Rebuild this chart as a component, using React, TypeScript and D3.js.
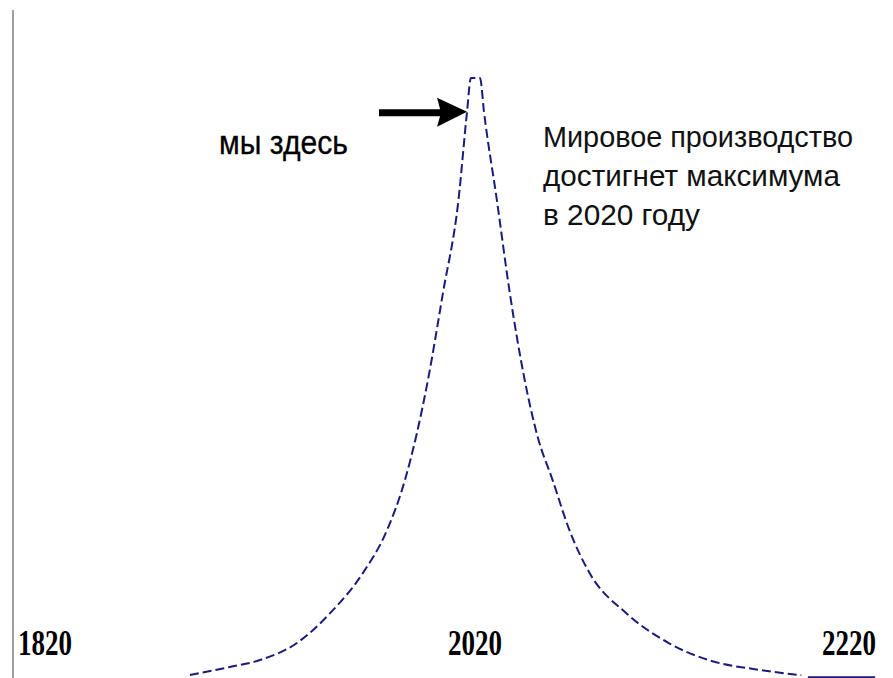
import React from "react";
import * as d3 from "d3";

const W = 893;
const H = 678;

// Year ticks shown on the axis
const tickYears = [1820, 2020, 2220];
const tickLabels = ["1820", "2020", "2220"];

// Production curve (relative units, peak = 100)
const years = [
  1887.4, 1906, 1920, 1937.2, 1952.6, 1967.9, 1979.1, 1987.4, 1998.1, 2005.1, 2012.3,
  2016.3, 2018.1, 2022.7, 2024.8, 2031.7, 2038.6, 2046.6, 2053.5, 2061.5, 2070.5,
  2081.2, 2100.9, 2123.8, 2145, 2171.6, 2194.5,
];
const values = [
  0.83, 2.16, 3.32, 6.15, 11.1, 17.8, 24.9, 33.2, 49.8, 64.3, 79.7,
  94.4, 100, 100, 94.4, 79.7, 64.3, 49.8, 40.4, 33.2, 24.9,
  17.8, 11.1, 6.1, 3.3, 1.7, 0.8,
];
// Solid tail at the far right
const tailYears = [2198, 2234];
const tailValues = [0.45, 0.45];

const hereYear = 2016.3;
const hereValue = 94.4;

const leftNote = "мы здесь";
const rightNote = ["Мировое производство", "достигнет максимума", "в 2020 году"];

export default function App() {
  const x = d3.scaleLinear().domain([1820, 2020, 2220]).range([45, 475, 849]);
  const y = d3.scaleLinear().domain([0, 100]).range([680, 78]);

  const pts = years.map((yr, i) => [yr, values[i]] as [number, number]);
  const lineGen = d3
    .line<[number, number]>()
    .x((d) => x(d[0]))
    .y((d) => y(d[1]))
    .curve(d3.curveMonotoneX);
  const tail = tailYears.map((yr, i) => [yr, tailValues[i]] as [number, number]);

  const tipX = x(hereYear);
  const tipY = y(hereValue);
  const headLen = 30;
  const headHalf = 14;
  const shaftStart = 379;

  const lineColor = "#1b1b7c";

  return (
    <svg
      width={W}
      height={H}
      style={{ position: "absolute", left: 0, top: 0, background: "#fff" }}
    >
      <rect x={0} y={0} width={W} height={H} fill="#fff" />
      {/* left axis line */}
      <line x1={13} x2={13} y1={10} y2={H} stroke="#a0a0a0" strokeWidth={2} />

      {/* curve */}
      <path
        d={lineGen(pts) || ""}
        fill="none"
        stroke={lineColor}
        strokeWidth={2}
        strokeDasharray="9,4"
      />
      <path d={lineGen(tail) || ""} fill="none" stroke={lineColor} strokeWidth={2} />

      {/* tick labels */}
      {tickYears.map((yr, i) => (
        <text
          key={yr}
          x={x(yr)}
          y={655}
          textAnchor="middle"
          fontFamily="'Liberation Serif', 'Times New Roman', serif"
          fontWeight="bold"
          fontSize={36}
          textLength={54}
          lengthAdjust="spacingAndGlyphs"
          fill="#000"
        >
          {tickLabels[i]}
        </text>
      ))}

      {/* arrow */}
      <line
        x1={shaftStart}
        x2={tipX - headLen + 4}
        y1={tipY + 1}
        y2={tipY + 1}
        stroke="#000"
        strokeWidth={7}
      />
      <polygon
        points={`${tipX},${tipY} ${tipX - headLen},${tipY - headHalf} ${tipX - headLen + 4},${tipY + 1} ${tipX - headLen},${tipY + headHalf + 1}`}
        fill="#000"
      />

      <text
        x={219}
        y={154}
        fontFamily="'Liberation Sans', Arial, sans-serif"
        fontSize={33}
        textLength={129}
        lengthAdjust="spacingAndGlyphs"
        fill="#000"
        stroke="#000"
        strokeWidth={0.3}
      >
        {leftNote}
      </text>

      {rightNote.map((t, i) => (
        <text
          key={i}
          x={543}
          y={147 + i * 39}
          fontFamily="'Liberation Sans', Arial, sans-serif"
          fontSize={30}
          textLength={[310, 297, 157][i]}
          lengthAdjust="spacingAndGlyphs"
          fill="#111"
        >
          {t}
        </text>
      ))}
    </svg>
  );
}
